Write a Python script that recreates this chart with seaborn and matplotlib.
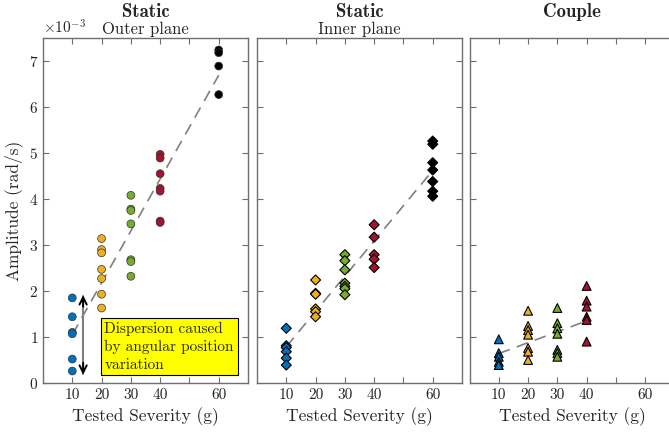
import numpy as np
import pandas as pd
import matplotlib
matplotlib.use("Agg")
import matplotlib.pyplot as plt
import seaborn as sns

# Data (amplitude in 1e-3 rad/s)
sev_colors = {10: "#0072BD", 20: "#EDB120", 30: "#77AC30", 40: "#A2142F", 60: "#000000"}

outer_sev = [10] * 6 + [20] * 7 + [30] * 7 + [40] * 7 + [60] * 4
outer_amp = [1.85, 1.44, 1.10, 1.07, 0.52, 0.26,
             3.14, 2.90, 2.83, 2.47, 2.27, 1.93, 1.63,
             4.08, 3.78, 3.75, 3.46, 2.68, 2.64, 2.32,
             4.97, 4.89, 4.55, 4.23, 4.17, 3.52, 3.49,
             7.24, 7.18, 6.89, 6.27]

inner_sev = [10] * 6 + [20] * 6 + [30] * 7 + [40] * 5 + [60] * 7
inner_amp = [1.19, 0.81, 0.77, 0.68, 0.54, 0.39,
             2.24, 1.95, 1.93, 1.61, 1.55, 1.44,
             2.79, 2.66, 2.46, 2.17, 2.10, 2.05, 1.92,
             3.44, 3.17, 2.79, 2.69, 2.51,
             5.26, 5.19, 4.79, 4.63, 4.38, 4.17, 4.06]

couple_sev = [10] * 5 + [20] * 7 + [30] * 7 + [40] * 6
couple_amp = [0.95, 0.65, 0.57, 0.46, 0.39,
              1.57, 1.24, 1.15, 1.05, 0.76, 0.68, 0.50,
              1.63, 1.30, 1.19, 1.07, 0.72, 0.65, 0.57,
              2.11, 1.79, 1.66, 1.44, 1.37, 0.90]

# dashed trend lines (start/end severity and value)
outer_trend = ([10, 60], [1.05, 6.69])
inner_trend = ([10, 60], [0.79, 4.62])
couple_trend = ([10, 40], [0.64, 1.35])

xticks = [10, 20, 30, 40, 50, 60]
xticklabels = ["10", "20", "30", "40", "", "60"]

sns.set_style("ticks")
plt.rcParams["font.family"] = "serif"
plt.rcParams["font.serif"] = ["cmr10"]
plt.rcParams["mathtext.fontset"] = "cm"
plt.rcParams["axes.formatter.use_mathtext"] = True
plt.rcParams["xtick.direction"] = "in"
plt.rcParams["ytick.direction"] = "in"
plt.rcParams["axes.edgecolor"] = "#6e6e6e"
plt.rcParams["xtick.color"] = "#6e6e6e"
plt.rcParams["ytick.color"] = "#6e6e6e"
plt.rcParams["xtick.labelcolor"] = "#262626"
plt.rcParams["ytick.labelcolor"] = "#262626"

fig = plt.figure(figsize=(6.69, 4.36), dpi=100)
W, H = 669, 436
lefts = [43, 257, 469.5]
axes = []
for l in lefts:
    ax = fig.add_axes([l / W, 53 / H, 205 / W, 345 / H], sharey=axes[0] if axes else None)
    axes.append(ax)

panels = [
    (outer_sev, outer_amp, outer_trend, "o", 32, "#333333", 0.5),
    (inner_sev, inner_amp, inner_trend, "D", 26, "black", 0.8),
    (couple_sev, couple_amp, couple_trend, "^", 40, "black", 0.8),
]

for ax, (sev, amp, trend, mk, size, ec, lw) in zip(axes, panels):
    df = pd.DataFrame({"sev": sev, "amp": np.array(amp) * 1e-3})
    ax.plot(trend[0], np.array(trend[1]) * 1e-3, color="#808080", lw=1.2,
            dashes=(7, 4.5), zorder=1)
    sns.scatterplot(data=df, x="sev", y="amp", hue="sev", palette=sev_colors,
                    marker=mk, s=size, edgecolor=ec, linewidth=lw, legend=False,
                    ax=ax, zorder=3)
    ax.set_xlim(0, 70)
    ax.set_ylim(0, 7.5e-3)
    ax.set_xticks(xticks)
    ax.set_xticklabels(xticklabels)
    ax.tick_params(top=True, right=True, length=4, width=0.8, labelsize=11)
    ax.set_xlabel("Tested Severity (g)", fontsize=12.5)
    for s in ax.spines.values():
        s.set_linewidth(1.0)

axes[0].ticklabel_format(axis="y", style="sci", scilimits=(-3, -3))
axes[0].set_yticks(np.arange(0, 8) * 1e-3)
axes[0].set_ylabel("Amplitude (rad/s)", fontsize=12.5)
axes[0].yaxis.get_offset_text().set_fontsize(11)
for ax in axes[1:]:
    ax.set_ylabel("")
    ax.tick_params(labelleft=False)

# titles
axes[0].set_title("Outer plane", fontsize=12, pad=3)
axes[1].set_title("Inner plane", fontsize=12, pad=3)
for ax, t in zip(axes, ["Static", "Static", "Couple"]):
    ax.text(0.5, 1.062, t, transform=ax.transAxes, ha="center", va="baseline",
            fontsize=13.5, fontfamily="cmb10")

# dispersion annotation
ax = axes[0]
ax.plot([13.7, 13.7], [0.2e-3, 1.9e-3], color="#808080", lw=1.5, zorder=2)
ax.annotate("", xy=(13.7, 1.97e-3), xytext=(13.7, 1.6e-3),
            arrowprops=dict(arrowstyle="->", color="black", lw=1.4, mutation_scale=13))
ax.annotate("", xy=(13.7, 0.12e-3), xytext=(13.7, 0.5e-3),
            arrowprops=dict(arrowstyle="->", color="black", lw=1.4, mutation_scale=13))
ax.text(21.0, 0.79e-3, "Dispersion caused\nby angular position\nvariation",
        fontsize=11, ha="left", va="center", linespacing=1.35, zorder=5,
        bbox=dict(boxstyle="square,pad=0.25", facecolor="#ffff00", edgecolor="black", lw=0.8))

fig.savefig("out.png", dpi=100)
